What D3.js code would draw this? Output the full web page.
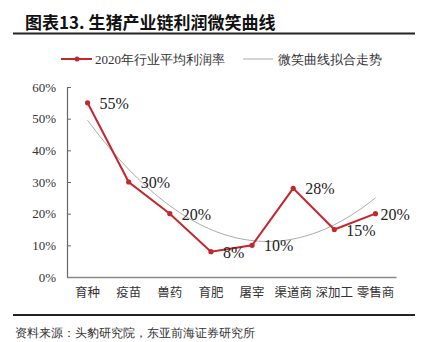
<!DOCTYPE html>
<html><head><meta charset="utf-8">
<script src="https://cdn.jsdelivr.net/npm/d3@7"></script>
<style>body{margin:0;background:#fff}svg{display:block}</style>
</head><body>
<svg id="c" width="426" height="342"></svg>
<script>
const categories = ["育种","疫苗","兽药","育肥","屠宰","渠道商","深加工","零售商"];
const profitValues = [55,30,20,8,10,28,15,20];
const yTicks = [0,10,20,30,40,50,60];
const titleText = "图表13. 生猪产业链利润微笑曲线";
const legendLabels = ["2020年行业平均利润率","微笑曲线拟合走势"];
const sourceText = "资料来源：头豹研究院，东亚前海证券研究所";

const svg = d3.select("#c");
const cjk = "'Noto Sans CJK SC', sans-serif";
const serif = "'Liberation Serif','Times New Roman', serif";
const red = "#C4262E";

// title
svg.append("text").attr("x",25).attr("y",29).attr("font-family",cjk).attr("font-weight","bold")
  .attr("font-size",17).attr("fill","#111").text(titleText);
svg.append("line").attr("x1",13).attr("x2",415).attr("y1",33.5).attr("y2",33.5).attr("stroke","#222").attr("stroke-width",2);

// legend
svg.append("line").attr("x1",61).attr("x2",92).attr("y1",59).attr("y2",59).attr("stroke",red).attr("stroke-width",2);
svg.append("circle").attr("cx",77).attr("cy",59).attr("r",2.5).attr("fill",red);
svg.append("text").attr("x",95).attr("y",63.5).attr("font-family",serif).attr("font-size",13).attr("fill","#333")
  .text(legendLabels[0]);
svg.append("line").attr("x1",243).attr("x2",273).attr("y1",59).attr("y2",59).attr("stroke","#aaa").attr("stroke-width",1);
svg.append("text").attr("x",278).attr("y",63.5).attr("font-family",serif).attr("font-size",13).attr("fill","#333")
  .text(legendLabels[1]);

// scales
const x = d3.scaleBand().domain(categories).range([67,396]);
const y = d3.scaleLinear().domain([0,60]).range([277,87]);
const cx = d => x(d) + x.bandwidth()/2;

// axes
const yAxis = svg.append("g").attr("transform","translate(67,0)")
  .call(d3.axisLeft(y).tickValues(yTicks).tickFormat(d=>d+"%").tickSize(-4).tickSizeOuter(0));
yAxis.select(".domain").attr("stroke","#666").attr("stroke-width",1.2);
yAxis.selectAll(".tick line").attr("stroke","#666");
yAxis.selectAll("text").attr("font-family",serif).attr("font-size",13).attr("fill","#333").attr("x",-11);

const xAxis = svg.append("g").attr("transform","translate(0,277)")
  .call(d3.axisBottom(x).tickSize(0).tickSizeOuter(0));
xAxis.select(".domain").attr("stroke","#888").attr("stroke-width",1.6);
xAxis.selectAll("text").attr("font-family",cjk).attr("font-size",12.5).attr("fill","#333").attr("dy","0").attr("y",20);

// quadratic trend fit (least squares on the data)
const n = profitValues.length;
const xs = profitValues.map((_,i)=>i+1);
const mx = d3.mean(xs);
const ts = xs.map(v=>v-mx);
const St2 = d3.sum(ts,t=>t*t), St4 = d3.sum(ts,t=>t**4);
const Sy = d3.sum(profitValues), Sty = d3.sum(ts,(t,i)=>t*profitValues[i]), St2y = d3.sum(ts,(t,i)=>t*t*profitValues[i]);
const b = Sty/St2;
const c = (St2y - St2*Sy/n)/(St4 - St2*St2/n);
const a = (Sy - c*St2)/n;
const fit = t => a + b*t + c*t*t;
const step = x.step();
const fitPts = d3.range(0,70).map(k=>{const tt = ts[0] + (ts[n-1]-ts[0])*k/69; return [cx(categories[0]) + (tt-ts[0])*step, y(fit(tt))];});
svg.append("path").attr("d",d3.line()(fitPts)).attr("fill","none").attr("stroke","#aaa").attr("stroke-width",1);

// data line
svg.append("path").datum(profitValues)
  .attr("d",d3.line().x((d,i)=>cx(categories[i])).y(d=>y(d)))
  .attr("fill","none").attr("stroke",red).attr("stroke-width",2);
svg.selectAll(".pt").data(profitValues).enter().append("circle")
  .attr("cx",(d,i)=>cx(categories[i])).attr("cy",d=>y(d)).attr("r",2.6).attr("fill",red);

// labels
svg.selectAll(".lbl").data(profitValues).enter().append("text")
  .attr("x",(d,i)=>cx(categories[i]) + (i===n-1?5:12))
  .attr("y",d=>y(d)+6)
  .attr("font-family",serif).attr("font-size",16).attr("fill","#222")
  .text(d=>d+"%");

// bottom
svg.append("line").attr("x1",13).attr("x2",415).attr("y1",315).attr("y2",315).attr("stroke","#222").attr("stroke-width",2);
svg.append("text").attr("x",15).attr("y",337).attr("font-family",serif).attr("font-size",12).attr("fill","#333").text(sourceText);
</script>
</body></html>
